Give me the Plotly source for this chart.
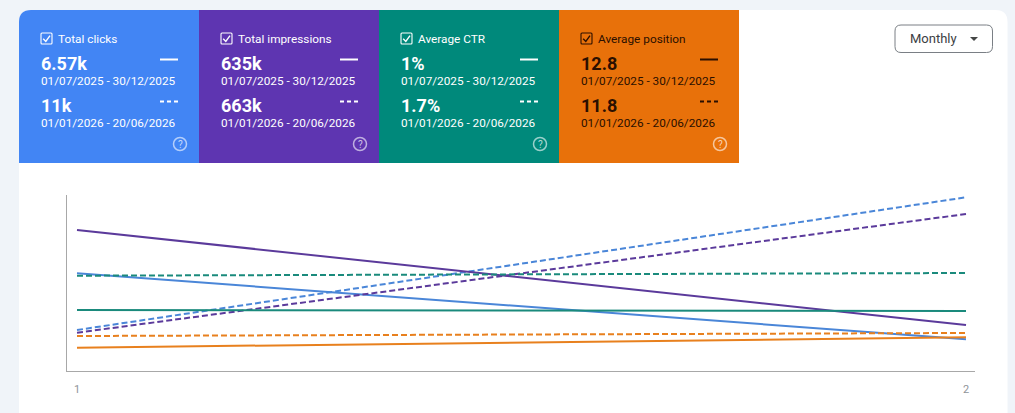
import plotly.graph_objects as go

W, H = 1015, 413

# --- chart data ---
periods = [1, 2]
tick_labels = ["1", "2"]
clicks_first = [97.7, 31.7]
clicks_second = [41.0, 173.7]
impressions_first = [141.0, 46.0]
impressions_second = [38.3, 157.0]
ctr_first = [61.0, 60.0]
ctr_second = [95.3, 98.0]
position_first = [23.3, 33.7]
position_second = [35.0, 38.0]

# --- tile text ---
tile_names = ["Total clicks", "Total impressions", "Average CTR", "Average position"]
first_totals = ["6.57k", "635k", "1%", "12.8"]
second_totals = ["11k", "663k", "1.7%", "11.8"]
first_range = "01/07/2025 - 30/12/2025"
second_range = "01/01/2026 - 20/06/2026"
granularity = "Monthly"

BLUE, PURPLE, TEAL, ORANGE = "#4285f4", "#5e35b1", "#00897b", "#e8710a"
LINE_BLUE, LINE_PURPLE, LINE_TEAL, LINE_ORANGE = "#4a86d8", "#5b3a9b", "#1a8a7c", "#e8801e"
tile_colors = [BLUE, PURPLE, TEAL, ORANGE]
tile_ink = ["#ffffff", "#ffffff", "#ffffff", "#2b0f00"]
FONT = "Roboto"


def px(x):
    return x / W


def py(y):
    return 1 - y / H


def rounded_path(x0, y0, x1, y1, tl=0, tr=0, br=0, bl=0):
    X0, X1, Y0, Y1 = px(x0), px(x1), py(y0), py(y1)
    rx = lambda r: r / W
    ry = lambda r: r / H
    d = f"M {X0 + rx(tl)} {Y0} L {X1 - rx(tr)} {Y0} "
    if tr:
        d += f"Q {X1} {Y0} {X1} {Y0 - ry(tr)} "
    d += f"L {X1} {Y1 + ry(br)} "
    if br:
        d += f"Q {X1} {Y1} {X1 - rx(br)} {Y1} "
    d += f"L {X0 + rx(bl)} {Y1} "
    if bl:
        d += f"Q {X0} {Y1} {X0} {Y1 + ry(bl)} "
    d += f"L {X0} {Y0 - ry(tl)} "
    if tl:
        d += f"Q {X0} {Y0} {X0 + rx(tl)} {Y0} "
    return d + "Z"


shapes = []
annotations = []


def add_path(d, fill="rgba(0,0,0,0)", line=None, width=0, below=True):
    shapes.append(dict(type="path", xref="paper", yref="paper", path=d, fillcolor=fill,
                       line=dict(color=line or "rgba(0,0,0,0)", width=width),
                       layer="below" if below else "above"))


def add_line(x0, y0, x1, y1, color, width, dash="solid"):
    shapes.append(dict(type="line", xref="paper", yref="paper", x0=px(x0), x1=px(x1),
                       y0=py(y0), y1=py(y1), line=dict(color=color, width=width, dash=dash),
                       layer="above"))


def add_text(x, y, text, size, color, bold=False, anchor="left"):
    annotations.append(dict(xref="paper", yref="paper", x=px(x), y=py(y), text=f"<b>{text}</b>" if bold else text,
                            showarrow=False, xanchor=anchor, yanchor="middle",
                            font=dict(family=FONT, size=size, color=color), borderpad=0, borderwidth=0))


# white card
add_path(rounded_path(19, 10, 1007.5, 430, tl=12, tr=12), fill="#ffffff")

# tiles
for i, name in enumerate(tile_names):
    left = 19 + 180 * i
    ink = tile_ink[i]
    add_path(rounded_path(left, 10, left + 180, 163, tl=12 if i == 0 else 0), fill=tile_colors[i])
    # checkbox
    add_path(rounded_path(left + 22, 33, left + 33, 44, tl=1, tr=1, br=1, bl=1), line=ink, width=1.1, below=False)
    check = f"M {px(left + 24.2)} {py(38.8)} L {px(left + 26.8)} {py(41.4)} L {px(left + 31)} {py(35.6)}"
    shapes.append(dict(type="path", xref="paper", yref="paper", path=check,
                       line=dict(color=ink, width=1.4), layer="above"))
    add_text(left + 39, 39.3, name, 11.8, ink)
    add_text(left + 22, 63, first_totals[i], 18, ink, bold=True)
    add_text(left + 22, 81.5, first_range, 11.75, ink)
    add_text(left + 22, 105, second_totals[i], 18, ink, bold=True)
    add_text(left + 22, 122.5, second_range, 11.75, ink)
    add_line(left + 141, 59.5, left + 159, 59.5, ink, 2)
    add_line(left + 141, 101.5, left + 159, 101.5, ink, 2, dash="4px,3px")
    # help icon
    cx, cy = left + 161, 144
    shapes.append(dict(type="circle", xref="paper", yref="paper", x0=px(cx - 6.5), x1=px(cx + 6.5),
                       y0=py(cy + 6.5), y1=py(cy - 6.5),
                       line=dict(color="rgba(255,255,255,0.6)", width=1.5), layer="above"))
    add_text(cx, 144.5, "?", 10, "rgba(255,255,255,0.7)", anchor="center")

# dropdown
add_path(rounded_path(895, 25, 992.5, 52.5, tl=6, tr=6, br=6, bl=6), fill="#ffffff", line="#7a7f85", width=1, below=False)
add_text(910, 38.5, granularity, 13, "#3c4043")
tri = f"M {px(970)} {py(37)} L {px(978)} {py(37)} L {px(974)} {py(41)} Z"
add_path(tri, fill="#444746", below=False)


def line_trace(name, values, color, dashed):
    return go.Scatter(x=periods, y=values, mode="lines", name=name,
                      line=dict(color=color, width=2, dash="6px,3px" if dashed else "solid"),
                      hoverinfo="skip")


fig = go.Figure([
    line_trace("Clicks first", clicks_first, LINE_BLUE, False),
    line_trace("Clicks second", clicks_second, LINE_BLUE, True),
    line_trace("Impressions first", impressions_first, LINE_PURPLE, False),
    line_trace("Impressions second", impressions_second, LINE_PURPLE, True),
    line_trace("CTR first", ctr_first, LINE_TEAL, False),
    line_trace("CTR second", ctr_second, LINE_TEAL, True),
    line_trace("Position first", position_first, LINE_ORANGE, False),
    line_trace("Position second", position_second, LINE_ORANGE, True),
])

fig.update_layout(
    width=W, height=H, margin=dict(l=0, r=0, t=0, b=0), autosize=False,
    paper_bgcolor="#f0f4f9", plot_bgcolor="rgba(0,0,0,0)", showlegend=False,
    shapes=shapes, annotations=annotations,
    font=dict(family=FONT),
    xaxis=dict(domain=[px(67), px(975)], range=[1 - 10 / 889, 2 + 9 / 889],
               tickvals=periods, ticktext=tick_labels, showgrid=False, zeroline=False,
               showline=True, linecolor="#a8a8a8", linewidth=1, ticks="",
               tickfont=dict(family=FONT, size=11, color="#8f9499"), ticklabelstandoff=8),
    yaxis=dict(domain=[py(371), py(195)], range=[0, 176], showgrid=False, zeroline=False,
               showline=True, linecolor="#a8a8a8", linewidth=1, showticklabels=False, ticks=""),
)

fig.write_html("out.html", config=dict(displayModeBar=False),
               post_script="document.body.style.margin='0';document.body.style.overflow='hidden';")
